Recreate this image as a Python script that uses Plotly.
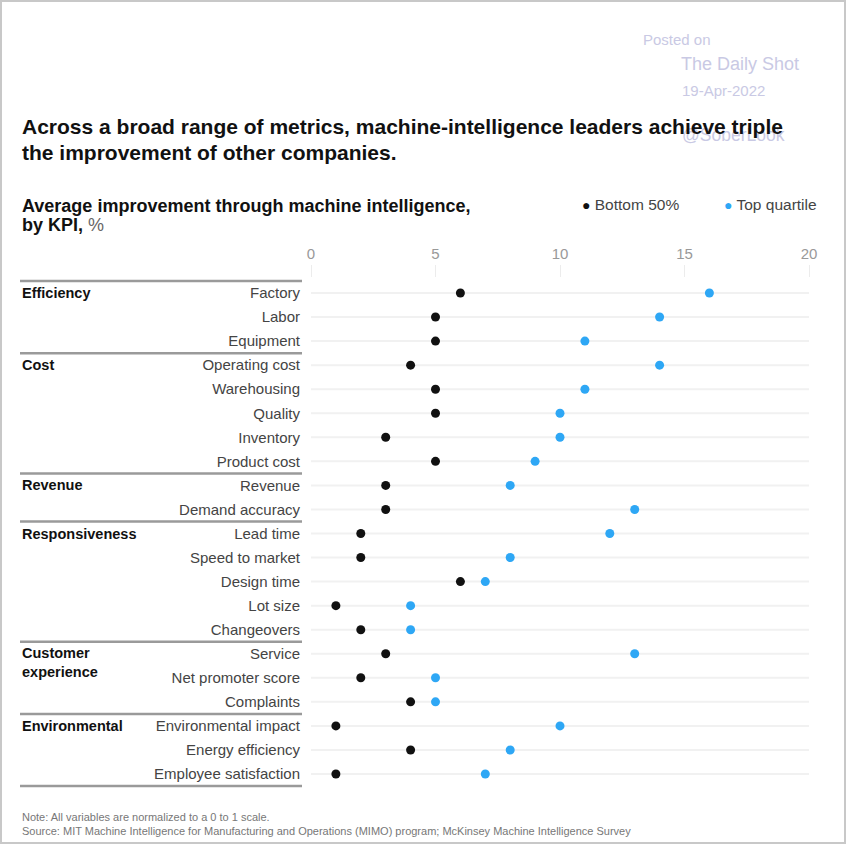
import plotly.graph_objects as go

# ---------------- data ----------------
kpis = ["Factory", "Labor", "Equipment",
        "Operating cost", "Warehousing", "Quality", "Inventory", "Product cost",
        "Revenue", "Demand accuracy",
        "Lead time", "Speed to market", "Design time", "Lot size", "Changeovers",
        "Service", "Net promoter score", "Complaints",
        "Environmental impact", "Energy efficiency", "Employee satisfaction"]
bottom_50 = [6, 5, 5, 4, 5, 5, 3, 5, 3, 3, 2, 2, 6, 1, 2, 3, 2, 4, 1, 4, 1]
top_quartile = [16, 14, 11, 14, 11, 10, 10, 9, 8, 13, 12, 8, 7, 4, 4, 13, 5, 5, 10, 8, 7]
groups = ["Efficiency", "Cost", "Revenue", "Responsiveness", "Customer<br>experience", "Environmental"]
group_sizes = [3, 5, 2, 5, 3, 3]
x_ticks = [0, 5, 10, 15, 20]

# ---------------- layout geometry (pixels) ----------------
W, H = 846, 844
L, R, T, B = 311, 809, 278, 800


def xp(px):
    return (px - L) / (R - L)


def yp(py):
    return (B - py) / (B - T)


FONT = "Liberation Sans"
BLACK = "#111111"
BLUE = "#2EA7F5"

rows = list(range(len(kpis)))

fig = go.Figure()

fig.add_trace(go.Scatter(
    x=bottom_50, y=rows, mode="markers", name="Bottom 50%",
    marker=dict(color=BLACK, size=9), showlegend=False,
    hovertext=kpis))
fig.add_trace(go.Scatter(
    x=top_quartile, y=rows, mode="markers", name="Top quartile",
    marker=dict(color=BLUE, size=9), showlegend=False,
    hovertext=kpis))

shapes = []
# faint row lines
for r in rows:
    shapes.append(dict(type="line", xref="x", yref="y", x0=x_ticks[0], x1=x_ticks[-1],
                       y0=r, y1=r, line=dict(color="#f1f1f1", width=2), layer="below"))
# group separator lines
start = 0
bounds = [0]
for s in group_sizes:
    start += s
    bounds.append(start)
for b in bounds:
    shapes.append(dict(type="line", xref="paper", yref="y", x0=xp(20), x1=xp(302),
                       y0=b - 0.5, y1=b - 0.5, line=dict(color="#9a9a9a", width=2.5)))
# outer frame
shapes.append(dict(type="rect", xref="paper", yref="paper", x0=xp(1), x1=xp(845),
                   y0=yp(843), y1=yp(1), line=dict(color="#c8c8c8", width=2)))

annotations = []
WM = "#c9c9e4"
# watermark
annotations += [
    dict(text="Posted on", x=xp(641), y=yp(40), font=dict(size=15, color=WM)),
    dict(text="The Daily Shot", x=xp(679), y=yp(64), font=dict(size=18, color=WM)),
    dict(text="19-Apr-2022", x=xp(680), y=yp(90), font=dict(size=15, color=WM)),
    dict(text="@SoberLook", x=xp(680), y=yp(135), font=dict(size=17.5, color=WM)),
]
# title
annotations += [
    dict(text="Across a broad range of metrics, machine-intelligence leaders achieve triple",
         x=xp(20), y=yp(126), font=dict(size=21, color=BLACK, weight="bold")),
    dict(text="the improvement of other companies.",
         x=xp(20), y=yp(152), font=dict(size=21, color=BLACK, weight="bold")),
    dict(text="Average improvement through machine intelligence,",
         x=xp(20), y=yp(206), font=dict(size=18, color=BLACK, weight="bold")),
    dict(text="<b>by KPI,</b> <span style='color:#666'>%</span>",
         x=xp(20), y=yp(225), font=dict(size=18, color=BLACK)),
]
# legend
annotations += [
    dict(text=f"<span style='color:{BLACK};font-size:14px'>●</span> Bottom 50%",
         x=xp(580), y=yp(205), font=dict(size=15.5, color="#444")),
    dict(text=f"<span style='color:{BLUE};font-size:14px'>●</span> Top quartile",
         x=xp(722), y=yp(205), font=dict(size=15.5, color="#444")),
]
for a in annotations:
    a.update(xref="paper", yref="paper", xanchor="left", yanchor="middle", showarrow=False)

# group labels
start = 0
for g, s in zip(groups, group_sizes):
    nl = g.count("<br>")
    annotations.append(dict(text=f"<b>{g}</b>", xref="paper", yref="y", x=xp(20), y=start + nl * 0.37,
                            xanchor="left", yanchor="middle", showarrow=False, align="left",
                            font=dict(size=14.5, color=BLACK)))
    start += s

# footnotes
annotations += [
    dict(text="Note: All variables are normalized to a 0 to 1 scale.", xref="paper", yref="paper",
         x=xp(20), y=yp(817), xanchor="left", yanchor="middle", showarrow=False,
         font=dict(size=11, color="#777")),
    dict(text="Source: MIT Machine Intelligence for Manufacturing and Operations (MIMO) program; "
              "McKinsey Machine Intelligence Survey", xref="paper", yref="paper",
         x=xp(20), y=yp(831), xanchor="left", yanchor="middle", showarrow=False,
         font=dict(size=11, color="#777")),
]

row_px = 24.05
fig.update_layout(
    width=W, height=H,
    margin=dict(l=L, r=W - R, t=T, b=H - B, pad=0),
    paper_bgcolor="white", plot_bgcolor="white",
    font=dict(family=FONT, color="#333"),
    shapes=shapes, annotations=annotations,
    xaxis=dict(range=[x_ticks[0], x_ticks[-1]], side="top", tickvals=x_ticks,
               ticks="outside", ticklen=12, tickcolor="#ececec", tickwidth=1,
               tickfont=dict(size=15, color="#999"), showgrid=False, zeroline=False,
               showline=False, fixedrange=True),
    yaxis=dict(range=[len(kpis) - 1 + (B - 774) / row_px, -(293 - T) / row_px],
               tickvals=rows, ticktext=kpis, ticks="", ticklabelstandoff=10,
               tickfont=dict(size=15, color="#444"), showgrid=False, zeroline=False,
               showline=False, fixedrange=True),
    showlegend=False,
)

fig.write_html("out.html", config={"displayModeBar": False},
               post_script="document.body.style.margin='0';")
